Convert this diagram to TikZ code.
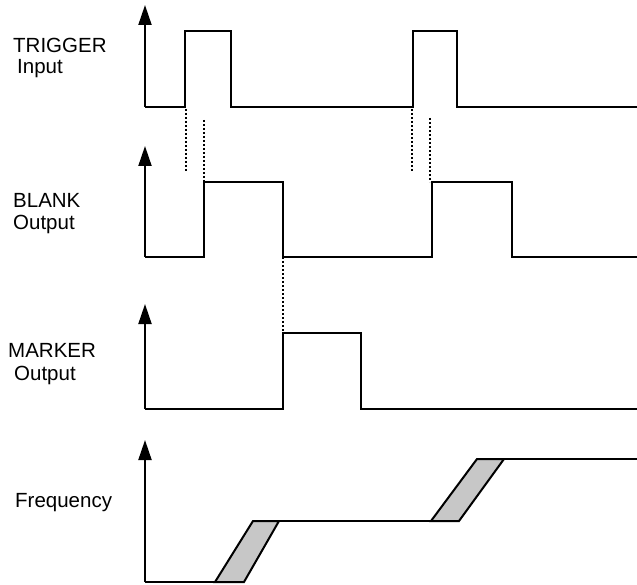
\documentclass[tikz,border=0pt]{standalone}
\usepackage{fontspec}
\setmainfont{Liberation Sans}
\usetikzlibrary{arrows.meta}
\begin{document}
\begin{tikzpicture}[x=1pt,y=-1pt,
  wave/.style={line width=2pt, line join=miter},
  axis/.style={line width=2pt, -{Triangle[length=20pt,width=13pt]}},
  sync/.style={line width=1.6pt, dash pattern=on 1.6pt off 2.4pt},
  band/.style={line width=2pt, fill=black!22},
  lbl/.style={anchor=base west, inner sep=0pt, font=\fontsize{20.5}{24}\selectfont}]
\useasboundingbox (0,0) rectangle (637,585);

% labels
\node[lbl] (trig) at (13,53) {TRIGGER};
\node[lbl] (trigin) at (17,74) {Input};
\node[lbl] (blank) at (13,208) {BLANK};
\node[lbl] (blankout) at (13,230) {Output};
\node[lbl] (mark) at (8,357) {MARKER};
\node[lbl] (markout) at (14,380) {Output};
\node[lbl] (freq) at (15,507) {Frequency};

% axes
\coordinate (o1) at (145,107); \coordinate (t1) at (145,5);
\coordinate (o2) at (145,257); \coordinate (t2) at (145,146);
\coordinate (o3) at (145,409); \coordinate (t3) at (145,304);
\coordinate (o4) at (145,582); \coordinate (t4) at (145,440);
\draw[axis] (o1) -- (t1);
\draw[axis] (o2) -- (t2);
\draw[axis] (o3) -- (t3);
\draw[axis] (o4) -- (t4);

% TRIGGER input
\draw[wave] (o1) -- (185,107) -- (185,31) -- (231,31) -- (231,107)
  -- (413,107) -- (413,31) -- (457,31) -- (457,107) -- (637,107);

% BLANK output
\draw[wave] (o2) -- (204,257) -- (204,182) -- (283,182) -- (283,257)
  -- (432,257) -- (432,182) -- (512,182) -- (512,257) -- (637,257);

% MARKER output
\draw[wave] (o3) -- (283,409) -- (283,333) -- (361,333) -- (361,409) -- (637,409);

% dotted timing links
\coordinate (d1a) at (186,109); \coordinate (d1b) at (186,172);
\coordinate (d2a) at (204,120); \coordinate (d2b) at (204,182);
\coordinate (d3a) at (412,109); \coordinate (d3b) at (412,171);
\coordinate (d4a) at (430,118); \coordinate (d4b) at (430,182);
\coordinate (d5a) at (283,257); \coordinate (d5b) at (283,333);
\draw[sync] (d1a) -- (d1b);
\draw[sync] (d2a) -- (d2b);
\draw[sync] (d3a) -- (d3b);
\draw[sync] (d4a) -- (d4b);
\draw[sync] (d5a) -- (d5b);

% Frequency
\draw[band] (215,582) -- (244,582) -- (279,521) -- (253,521) -- cycle;
\draw[band] (431,521) -- (459,521) -- (504,459) -- (477,459) -- cycle;
\draw[wave] (o4) -- (215,582);
\draw[wave] (279,521) -- (431,521);
\draw[wave] (504,459) -- (637,459);
\end{tikzpicture}
\end{document}
